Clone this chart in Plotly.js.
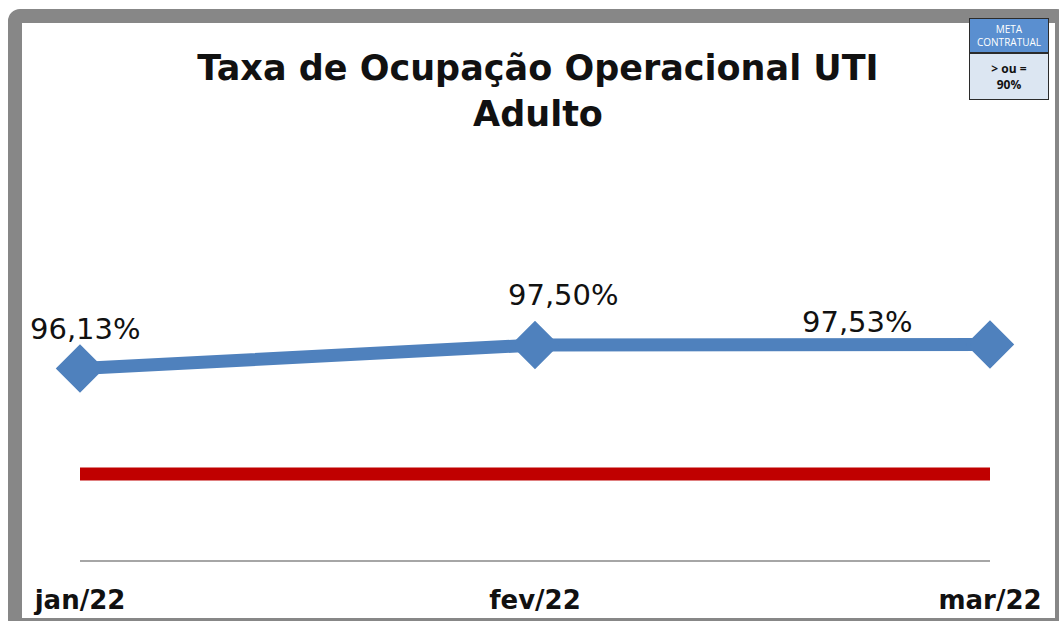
<!DOCTYPE html>
<html>
<head>
<meta charset="utf-8">
<script src="https://cdn.plot.ly/plotly-3.0.1.min.js"></script>
<style>
  html, body { margin:0; padding:0; width:1059px; height:621px; overflow:hidden; background:#ffffff; }
  #frame { position:absolute; left:8px; top:9px; width:1033px; height:595px; border:14px solid #878787; border-radius:12px; background:#ffffff; }
  #chart { position:absolute; left:0; top:0; width:1059px; height:621px; }
</style>
</head>
<body>
<div id="frame"></div>
<div id="chart"></div>
<script>
// ---- data ----
const months = ['jan/22', 'fev/22', 'mar/22'];
const occupancy = [96.13, 97.50, 97.53];
const target = [90, 90, 90];
const metaTitle = 'META<br>CONTRATUAL';
const metaText = '> ou =<br>90%';
const chartTitle = 'Taxa de Ocupação Operacional UTI<br>Adulto';

// ---- layout geometry (pixels) ----
const L = 80, R = 69, T = 302, B = 61, Wd = 1059, Ht = 621;
const PW = Wd - L - R, PH = Ht - T - B;
const px2x = p => (p - L) / PW;
const py2y = p => (Ht - B - p) / PH;

const labelShift = [[5, 40], [28, 50], [-133, 22]];
const fmt = v => v.toFixed(2).replace('.', ',') + '%';
const FONT = 'DejaVu Sans, sans-serif';

const xIdx = months.map((m, i) => i);

const traces = [
  {
    x: xIdx, y: target, type: 'scatter', mode: 'lines',
    line: { color: '#C00000', width: 13 }, hoverinfo: 'skip', cliponaxis: false
  },
  {
    x: xIdx, y: occupancy, type: 'scatter', mode: 'lines+markers',
    line: { color: '#4F81BD', width: 13 },
    marker: { symbol: 'diamond', size: 34, color: '#4F81BD', line: { color: '#4F81BD', width: 3 } },
    cliponaxis: false
  }
];

const annotations = occupancy.map((v, i) => ({
  x: i, y: v, xref: 'x', yref: 'y', text: fmt(v), showarrow: false,
  xshift: labelShift[i][0], yshift: labelShift[i][1],
  font: { family: FONT, size: 29, color: '#111111' }
}));

annotations.push({
  xref: 'paper', yref: 'paper', x: px2x(969), y: py2y(18), xanchor: 'left', yanchor: 'top',
  text: metaTitle, showarrow: false, width: 78, height: 33, align: 'center',
  bgcolor: '#5A8FD0', bordercolor: '#2b2b2b', borderwidth: 1, borderpad: 0,
  font: { family: 'Open Sans, sans-serif', size: 10, color: '#ffffff' }
});
annotations.push({
  xref: 'paper', yref: 'paper', x: px2x(969), y: py2y(53), xanchor: 'left', yanchor: 'top',
  text: '<b>' + metaText.replace('>', '&gt;') + '</b>', showarrow: false, width: 78, height: 45, align: 'center',
  bgcolor: '#DCE6F2', bordercolor: '#2b2b2b', borderwidth: 1, borderpad: 0,
  font: { family: 'Open Sans, sans-serif', size: 12, color: '#111111' }
});

const layout = {
  width: Wd, height: Ht,
  margin: { l: L, r: R, t: T, b: B, pad: 0 },
  paper_bgcolor: 'rgba(0,0,0,0)', plot_bgcolor: 'rgba(0,0,0,0)',
  showlegend: false,
  title: {
    text: '<b>' + chartTitle + '</b>',
    x: 538 / Wd, xref: 'container', xanchor: 'center',
    y: 1 - 80 / Ht, yref: 'container', yanchor: 'top',
    font: { family: FONT, size: 35, color: '#111111' }
  },
  xaxis: {
    range: [0, 2], tickmode: 'array', tickvals: xIdx, ticktext: months.map(m => '<b>' + m + '</b>'),
    showgrid: false, zeroline: false, showline: true, linecolor: '#A6A6A6', linewidth: 1.5,
    ticks: '', ticklabelstandoff: 16, fixedrange: true,
    tickfont: { family: FONT, size: 26, color: '#111111' }
  },
  yaxis: {
    range: [85, 100], showgrid: false, zeroline: false, showline: false,
    showticklabels: false, ticks: '', fixedrange: true
  },
  annotations: annotations
};

Plotly.newPlot('chart', traces, layout, { displayModeBar: false, staticPlot: true });
</script>
</body>
</html>
